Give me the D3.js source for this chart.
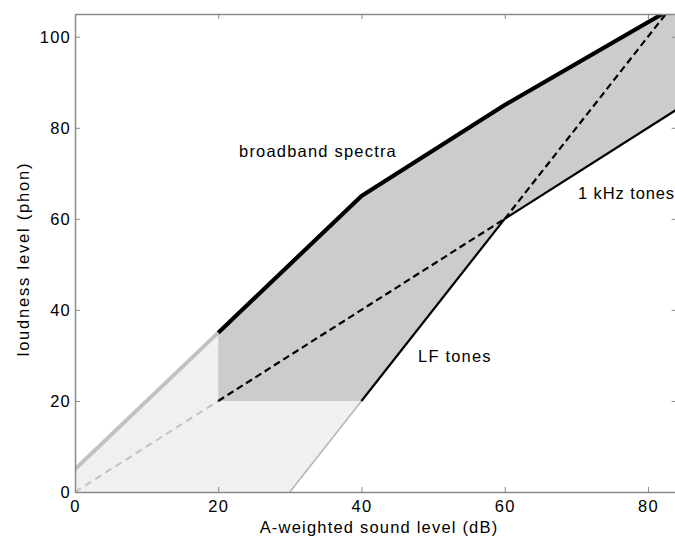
<!DOCTYPE html>
<html>
<head>
<meta charset="utf-8">
<script src="https://cdn.jsdelivr.net/npm/d3@7"></script>
<style>
  html, body { margin: 0; padding: 0; background: #fff; }
  svg { display: block; font-family: "Liberation Sans", Arial, Helvetica, sans-serif; }
</style>
</head>
<body>
<svg id="chart" width="675" height="538"></svg>
<script>
// Axis ticks
const xTicks = [0, 20, 40, 60, 80];
const yTicks = [0, 20, 40, 60, 80, 100];

// Broadband spectra: A-weighted level (dB) -> loudness level (phon)
const broadbandDb   = [0, 20, 40, 60, 82];
const broadbandPhon = [5, 35, 65, 85, 105];

// 1 kHz tones
const khzDb   = [0, 20, 60, 84];
const khzPhon = [0, 20, 60, 84];

// Low-frequency tones
const lfDb   = [30, 40, 60, 82.5];
const lfPhon = [0, 20, 60, 105];

// Lower validity limits
const minDb = 20;
const minPhon = 20;

const FONT = 16.5;    // px
const SPACING = 1.2;  // letter spacing, px

const x = d3.scaleLinear().domain([0, 84]).range([75, 676.6]);
const y = d3.scaleLinear().domain([0, 105]).range([492, 14]);

const svg = d3.select("#chart");
svg.append("defs").append("clipPath").attr("id", "plot")
  .append("rect")
  .attr("x", x(0)).attr("y", y(105))
  .attr("width", x(84) - x(0)).attr("height", y(0) - y(105));

const zip = (xs, ys) => xs.map((v, i) => [v, ys[i]]);
const bb = zip(broadbandDb, broadbandPhon);
const khz = zip(khzDb, khzPhon);
const lf = zip(lfDb, lfPhon);

const line = d3.line().x(d => x(d[0])).y(d => y(d[1]));
const g = svg.append("g").attr("clip-path", "url(#plot)");

// Region below the validity limits (light)
const lightRegion = [
  [0, 0], bb[0], bb[1], [minDb, minPhon], lf[1], lf[0]
];
g.append("path").attr("d", line(lightRegion) + "Z").attr("fill", "#f0f0f0");

// Region between broadband and tonal curves (dark)
const darkRegion = [
  ...bb.filter(d => d[0] >= minDb),
  [84, 105],
  khz[3], khz[2], lf[1], [minDb, minPhon]
];
g.append("path").attr("d", line(darkRegion) + "Z").attr("fill", "#cccccc");

// Extrapolated parts (grey)
g.append("path").attr("d", line(bb.slice(0, 2)))
  .attr("fill", "none").attr("stroke", "#c2c2c2").attr("stroke-width", 4);
g.append("path").attr("d", line(khz.slice(0, 2)))
  .attr("fill", "none").attr("stroke", "#c2c2c2").attr("stroke-width", 2)
  .attr("stroke-dasharray", "7,5");
g.append("path").attr("d", line(lf.slice(0, 2)))
  .attr("fill", "none").attr("stroke", "#b4b4b4").attr("stroke-width", 1.5);

// Dashed continuations of the tonal curves
g.append("path").attr("d", line(khz.slice(1, 3)))
  .attr("fill", "none").attr("stroke", "#000").attr("stroke-width", 2.2)
  .attr("stroke-dasharray", "7,4");
g.append("path").attr("d", line(lf.slice(2, 4)))
  .attr("fill", "none").attr("stroke", "#000").attr("stroke-width", 2.2)
  .attr("stroke-dasharray", "7,4");

// Solid tonal curves
g.append("path").attr("d", line(lf.slice(1, 3)))
  .attr("fill", "none").attr("stroke", "#000").attr("stroke-width", 2.2);
g.append("path").attr("d", line(khz.slice(2, 4)))
  .attr("fill", "none").attr("stroke", "#000").attr("stroke-width", 2.2);

// Broadband curve
g.append("path").attr("d", line(bb.slice(1)))
  .attr("fill", "none").attr("stroke", "#000").attr("stroke-width", 4.2)
  .attr("stroke-linejoin", "round");

// Axes (ticks inward, boxed)
const axisColor = "#8a8a8a";
function styleAxis(sel) {
  sel.selectAll("path.domain").attr("stroke", axisColor).attr("stroke-width", 1.5);
  sel.selectAll(".tick line").attr("stroke", axisColor);
  sel.selectAll(".tick text").attr("fill", "#000")
    .style("font-size", FONT + "px")
    .style("letter-spacing", SPACING + "px")
    .style("font-family", '"Liberation Sans", Arial, sans-serif');
}

svg.append("g").attr("transform", `translate(0,${y(0)})`)
  .call(d3.axisBottom(x).tickValues(xTicks).tickSize(-5).tickSizeOuter(0).tickPadding(8.5))
  .call(styleAxis);
svg.append("g").attr("transform", `translate(0,${y(105)})`)
  .call(d3.axisTop(x).tickValues(xTicks).tickSize(-5).tickSizeOuter(0).tickFormat(""))
  .call(styleAxis);
svg.append("g").attr("transform", `translate(${x(0)},0)`)
  .call(d3.axisLeft(y).tickValues(yTicks).tickSize(-5).tickSizeOuter(0).tickPadding(4))
  .call(styleAxis);
svg.append("g").attr("transform", `translate(${x(84)},0)`)
  .call(d3.axisRight(y).tickValues(yTicks).tickSize(-5).tickSizeOuter(0).tickFormat(""))
  .call(styleAxis);

function label(px, py, txt, opts = {}) {
  svg.append("text")
    .attr("transform", `translate(${px},${py})` + (opts.rotate ? ` rotate(${opts.rotate})` : ""))
    .attr("text-anchor", opts.anchor || "start")
    .style("font-size", FONT + "px")
    .style("letter-spacing", (opts.spacing ?? SPACING) + "px")
    .text(txt);
}

// Axis titles
label(379, 533, "A-weighted sound level (dB)", { anchor: "middle" });
label(29, 259, "loudness level (phon)", { anchor: "middle", rotate: -90, spacing: 1.8 });

// Curve labels
label(239, 157, "broadband spectra");
label(578, 199, "1 kHz tones", { spacing: 0.9 });
label(418, 362, "LF tones");
</script>
</body>
</html>
